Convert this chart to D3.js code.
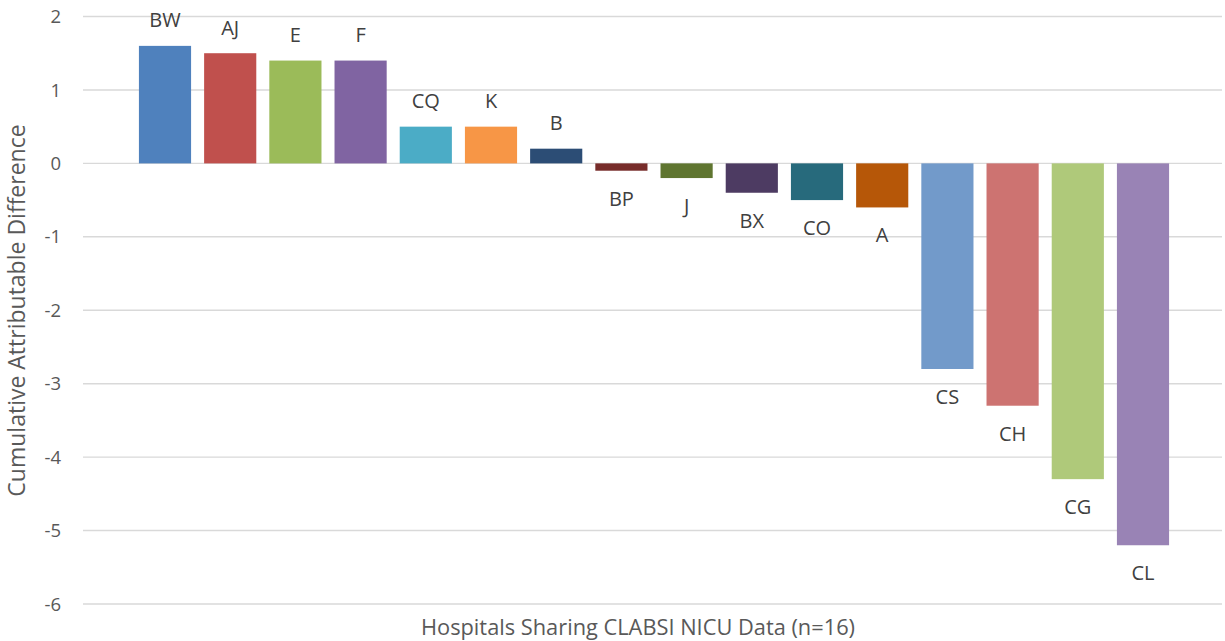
<!DOCTYPE html>
<html>
<head>
<meta charset="utf-8">
<script src="https://cdn.jsdelivr.net/npm/d3@7"></script>
<style>
  html, body { margin: 0; padding: 0; background: #fff; }
  svg { display: block; }
  text { font-family: "Open Sans", "Noto Sans", sans-serif; }
</style>
</head>
<body>
<svg id="chart" width="1225" height="641"></svg>
<script>
const categories = ["BW","AJ","E","F","CQ","K","B","BP","J","BX","CO","A","CS","CH","CG","CL"];
const values = [1.6, 1.5, 1.4, 1.4, 0.5, 0.5, 0.2, -0.1, -0.2, -0.4, -0.5, -0.6, -2.8, -3.3, -4.3, -5.2];
const colors = ["#4F81BD","#C0504D","#9BBB59","#8064A2","#4BACC6","#F79646",
                "#2C4D75","#772C2A","#5F7530","#4D3B62","#276A7C","#B65708",
                "#729ACA","#CD7371","#AFC97A","#9983B5"];
const yTicks = [2, 1, 0, -1, -2, -3, -4, -5, -6];
const yTitle = "Cumulative Attributable Difference";
const xTitle = "Hospitals Sharing CLABSI NICU Data (n=16)";

const svg = d3.select("#chart");
const gridX0 = 83, gridX1 = 1222;

const y = d3.scaleLinear().domain([-6, 2]).range([604, 16.5]);
const x = d3.scaleBand().domain(categories).range([132.4, 1175.6])
  .paddingInner(0.2).paddingOuter(0.1);

// gridlines
svg.append("g").selectAll("line").data(yTicks).join("line")
  .attr("x1", gridX0).attr("x2", gridX1)
  .attr("y1", d => y(d)).attr("y2", d => y(d))
  .attr("stroke", "#d9d9d9").attr("stroke-width", 1.4);

// y tick labels
svg.append("g").selectAll("text").data(yTicks).join("text")
  .attr("x", 61).attr("y", d => y(d))
  .attr("dy", "0.36em")
  .attr("text-anchor", "end")
  .attr("font-size", 18.5)
  .attr("fill", "#595959")
  .text(d => d);

const data = categories.map((c, i) => ({ c, v: values[i], col: colors[i] }));

// bars
svg.append("g").selectAll("rect").data(data).join("rect")
  .attr("x", d => x(d.c))
  .attr("width", x.bandwidth())
  .attr("y", d => y(Math.max(0, d.v)))
  .attr("height", d => Math.abs(y(d.v) - y(0)))
  .attr("fill", d => d.col);

// data labels (category names)
svg.append("g").selectAll("text").data(data).join("text")
  .attr("x", d => x(d.c) + x.bandwidth() / 2)
  .attr("y", d => d.v >= 0 ? y(d.v) - 18.5 : y(d.v) + 35)
  .attr("text-anchor", "middle")
  .attr("font-size", 20)
  .attr("fill", "#404040")
  .text(d => d.c);

// axis titles
svg.append("text")
  .attr("transform", "translate(25,310.5) rotate(-90)")
  .attr("text-anchor", "middle")
  .attr("font-size", 23)
  .attr("fill", "#595959")
  .text(yTitle);

svg.append("text")
  .attr("x", 638).attr("y", 635)
  .attr("text-anchor", "middle")
  .attr("font-size", 21.8)
  .attr("fill", "#595959")
  .text(xTitle);
</script>
</body>
</html>
